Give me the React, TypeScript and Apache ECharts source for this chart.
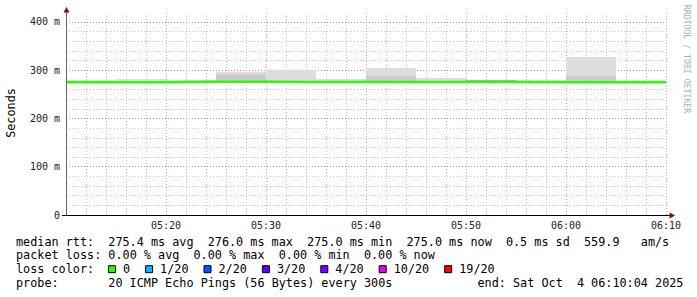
import React, { useEffect, useRef } from "react";
import * as echarts from "echarts";

// ---- data (minutes after 05:10, values in milliseconds) ----
const xTickLabels = ["05:10", "05:20", "05:30", "05:40", "05:50", "06:00", "06:10"];
const yTickLabels = ["0", "100 m", "200 m", "300 m", "400 m"];
const intervalStart = [0, 5, 10, 15, 20, 25, 30, 35, 40, 45, 50, 55];
const intervalEnd = [5, 10, 15, 20, 25, 30, 35, 40, 45, 50, 55, 60];
const medianRtt = [275.0, 275.0, 276.0, 276.0, 275.8, 275.6, 275.8, 275.6, 275.4, 275.0, 275.0, 275.0];
const smokeMax = [275.0, 282.0, 279.8, 297.0, 300.9, 282.0, 304.7, 284.0, 279.2, 275.0, 327.5, 275.0];
const smokeInner = [275.0, 275.0, 276.0, 291.4, 275.8, 275.6, 288.0, 275.6, 279.2, 275.0, 288.0, 275.0];
const smokeCore = [275.0, 275.0, 276.0, 276.0, 275.8, 275.6, 275.8, 275.6, 279.2, 275.0, 275.0, 275.0];

const legendRtt = "median rtt:  275.4 ms avg  276.0 ms max  275.0 ms min  275.0 ms now  0.5 ms sd  559.9   am/s";
const legendLoss = "packet loss: 0.00 % avg  0.00 % max  0.00 % min  0.00 % now";
const legendLossColorTitle = "loss color:";
const lossLabels = ["0", "1/20", "2/20", "3/20", "4/20", "10/20", "19/20"];
const lossColors = ["#26ff00", "#00b8ff", "#0059ff", "#5e00ff", "#7e00ff", "#dd00ff", "#ff0000"];
const legendProbe = "probe:       20 ICMP Echo Pings (56 Bytes) every 300s            end: Sat Oct  4 06:10:04 2025";
const yAxisTitle = "Seconds";
const watermark = "RRDTOOL / TOBI OETIKER";

// ---- layout / style ----
const W = 697;
const H = 297;
const PLOT_L = 66;
const PLOT_R = 666;
const PLOT_T = 13;
const PLOT_B = 215;
const Y_MAX = 418.65;
const MONO = "'DejaVu Sans Mono', monospace";
const LEG_FS = 11.8;
const CHAR_W = 7.1;
const LEG_X = 16;
const LINE_Y = [241.6, 255.4, 269.2, 283.0];
const MINOR_GRID = "rgba(143,143,143,0.5)";
const MAJOR_GRID = "rgba(222,80,80,0.55)";
const DOTS = [1, 2];
const ARROW = "#a00000";

function lineTexts(line: string, y: number): any[] {
  const out: any[] = [];
  const re = /\S+(?: \S+)*/g;
  let m: RegExpExecArray | null;
  while ((m = re.exec(line)) !== null) {
    out.push({
      type: "text",
      x: LEG_X + m.index * CHAR_W,
      y,
      style: { text: m[0], font: `${LEG_FS}px ${MONO}`, fill: "#000", verticalAlign: "middle", align: "left" },
    });
  }
  return out;
}

function lossLegend(y: number): any[] {
  const out: any[] = [...lineTexts(legendLossColorTitle, y)];
  let x = LEG_X + 13 * CHAR_W - 0.3;
  lossLabels.forEach((lab, i) => {
    out.push({
      type: "rect",
      shape: { x: x + 0.5, y: y - 3.5, width: 7, height: 7 },
      style: { fill: lossColors[i], stroke: "#000", lineWidth: 1 },
    });
    out.push({
      type: "text",
      x: x + 15,
      y,
      style: { text: lab, font: `${LEG_FS}px ${MONO}`, fill: "#000", verticalAlign: "middle", align: "left" },
    });
    x = x + 15 + lab.length * CHAR_W + 15;
  });
  return out;
}

export default function App() {
  const ref = useRef<HTMLDivElement>(null);
  useEffect(() => {
    if (!ref.current) return;
    const chart = echarts.init(ref.current, null, { renderer: "svg" });

    const smokeData = intervalStart.map((s, i) => [s, intervalEnd[i], medianRtt[i], smokeMax[i], smokeInner[i], smokeCore[i]]);
    const lineData: number[][] = intervalStart.map((s, i) => [s, medianRtt[i]]);
    lineData.push([intervalEnd[intervalEnd.length - 1], medianRtt[medianRtt.length - 1]]);

    const graphics: any[] = [
      // y axis line + arrow
      { type: "line", shape: { x1: PLOT_L + 0.5, y1: PLOT_T - 1, x2: PLOT_L + 0.5, y2: PLOT_B + 1 }, style: { stroke: "#666", lineWidth: 1 }, z: 50 },
      { type: "polygon", shape: { points: [[PLOT_L - 2.5, PLOT_T - 0.5], [PLOT_L + 3.5, PLOT_T - 0.5], [PLOT_L + 0.5, PLOT_T - 6]] }, style: { fill: ARROW }, z: 50 },
      // x axis line + arrow
      { type: "line", shape: { x1: PLOT_L - 4, y1: PLOT_B + 0.5, x2: PLOT_R + 4, y2: PLOT_B + 0.5 }, style: { stroke: "#000", lineWidth: 1 }, z: 50 },
      { type: "polygon", shape: { points: [[PLOT_R + 3.5, PLOT_B - 2.5], [PLOT_R + 3.5, PLOT_B + 3.5], [PLOT_R + 9, PLOT_B + 0.5]] }, style: { fill: ARROW }, z: 50 },
      // y axis title
      {
        type: "text", x: 11.2, y: 113, rotation: Math.PI / 2,
        style: { text: yAxisTitle, font: `${LEG_FS}px ${MONO}`, fill: "#000", align: "center", verticalAlign: "middle" },
      },
      // watermark
      {
        type: "text", x: 687, y: 59, rotation: -Math.PI / 2,
        style: { text: watermark, font: `8.2px ${MONO}`, fill: "#b0b0b0", align: "center", verticalAlign: "middle" },
      },
      ...lineTexts(legendRtt, LINE_Y[0]),
      ...lineTexts(legendLoss, LINE_Y[1]),
      ...lossLegend(LINE_Y[2]),
      ...lineTexts(legendProbe, LINE_Y[3]),
    ];

    chart.setOption({
      animation: false,
      backgroundColor: "#ffffff",
      grid: { left: PLOT_L, right: W - PLOT_R, top: PLOT_T, bottom: H - PLOT_B, containLabel: false },
      xAxis: {
        type: "value", min: 0, max: 60, interval: 10,
        axisLine: { show: false }, axisTick: { show: false },
        axisLabel: {
          formatter: (v: number) => (v === 0 ? "" : xTickLabels[Math.round(v / 10)]),
          fontFamily: MONO, fontSize: 10, color: "#222", margin: 5,
        },
        splitLine: { show: true, lineStyle: { color: MAJOR_GRID, type: DOTS, width: 1 } },
        minorTick: { show: false, splitNumber: 5 },
        minorSplitLine: { show: true, lineStyle: { color: MINOR_GRID, type: DOTS, width: 1 } },
      },
      yAxis: [
        {
          type: "value", min: 0, max: Y_MAX, interval: 20,
          axisLine: { show: false }, axisTick: { show: false }, axisLabel: { show: false },
          splitLine: { show: true, showMinLine: false, showMaxLine: false, lineStyle: { color: MINOR_GRID, type: DOTS, width: 1 } },
        },
        {
          type: "value", min: 0, max: Y_MAX, interval: 100, position: "left",
          axisLine: { show: false }, axisTick: { show: false },
          axisLabel: {
            showMaxLabel: false,
            formatter: (v: number) => {
              const idx = Math.round(v / 100);
              return Math.abs(v - idx * 100) < 1e-6 && idx < yTickLabels.length ? yTickLabels[idx] : "";
            },
            fontFamily: MONO, fontSize: 10, color: "#222", margin: 6,
          },
          splitLine: { show: true, showMinLine: false, showMaxLine: false, lineStyle: { color: MAJOR_GRID, type: DOTS, width: 1 } },
        },
      ],
      series: [
        {
          type: "custom",
          coordinateSystem: "cartesian2d",
          xAxisIndex: 0,
          yAxisIndex: 0,
          z: 1,
          encode: { x: [0, 1], y: [2, 3, 4, 5] },
          data: smokeData,
          renderItem: (params: any, api: any) => {
            const s = api.value(0);
            const e = api.value(1);
            const med = api.value(2);
            const bands: [number, string][] = [
              [api.value(3), "#dddddd"],
              [api.value(4), "#cbcbcb"],
              [api.value(5), "#a8a8a8"],
            ];
            const children: any[] = [];
            for (const [top, color] of bands) {
              if (top <= med + 0.05) continue;
              const p0 = api.coord([s, top]);
              const p1 = api.coord([e, med]);
              children.push({
                type: "rect",
                shape: { x: p0[0], y: p0[1], width: p1[0] - p0[0], height: p1[1] - p0[1] },
                style: { fill: color },
              });
            }
            return { type: "group", children };
          },
        },
        {
          type: "line",
          xAxisIndex: 0,
          yAxisIndex: 0,
          z: 3,
          step: "end",
          symbol: "none",
          data: lineData,
          lineStyle: { color: lossColors[0], width: 2.5 },
        },
      ],
      graphic: graphics,
    });
    return () => chart.dispose();
  }, []);
  return (
    <div
      ref={ref}
      style={{ position: "fixed", left: 0, top: 0, width: W, height: H, background: "#fff" }}
    />
  );
}
